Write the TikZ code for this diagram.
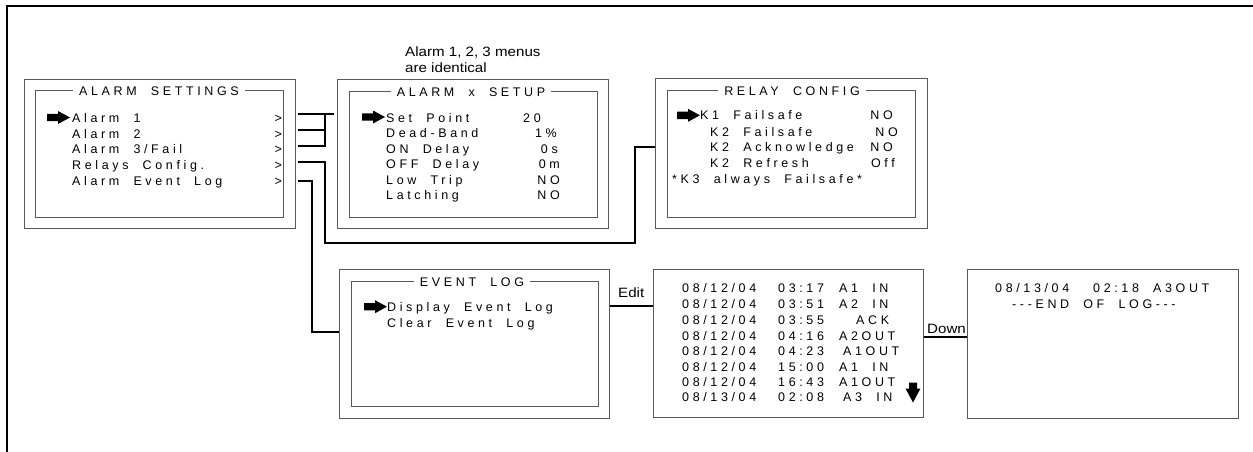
\documentclass[tikz,border=0pt]{standalone}
\usepackage{fontspec}
\setmainfont{Liberation Sans}
\newfontfamily\lcdfont[LetterSpace=29,WordSpace=2]{Liberation Sans}
\newfontfamily\lblfont[FakeStretch=1.12]{Liberation Sans}
\tikzset{
  box/.style={draw=black!65, line width=0.9pt, inner sep=0pt, anchor=north west},
  wire/.style={line width=2.4pt, line join=miter},
  txt/.style={font=\lcdfont\fontsize{12.5}{14}\selectfont, inner sep=0pt, anchor=base west},
  val/.style={txt, anchor=base east},
  ttl/.style={font=\lcdfont\fontsize{12.5}{14}\selectfont, fill=white, inner xsep=6pt, inner ysep=1pt, anchor=center},
  lbl/.style={font=\lblfont\fontsize{13.5}{15.5}\selectfont, inner sep=0pt, anchor=base west},
  ptr/.pic={\fill (-23,-3.7) -- (-12,-3.7) -- (-12,-6.5) -- (0,0) -- (-12,6.5) -- (-12,3.7) -- (-23,3.7) -- cycle;},
  dnptr/.pic={\fill (-4,-10) -- (4,-10) -- (4,-4) -- (7.5,-4) -- (0,10) -- (-7.5,-4) -- (-4,-4) -- cycle;}
}
\begin{document}
\begin{tikzpicture}[x=1pt,y=-1pt]
\useasboundingbox (0,0) rectangle (1253,452);
% frame
\draw[line width=2pt] (7,452) -- (7,5.7) -- (1253,5.7);

% ---------- ALARM SETTINGS ----------
\node[box, minimum width=271pt, minimum height=149pt] (as) at (24,79) {};
\node[box, minimum width=248pt, minimum height=127pt] (asi) at (35,90) {};
\node[ttl] (ast) at (159,91) {ALARM SETTINGS};
\pic at (70,117.5) {ptr};
\node[txt] (as1) at (72,122.5) {Alarm 1};
\node[txt] (as2) at (72,138) {Alarm 2};
\node[txt] (as3) at (72,153.5) {Alarm 3/Fail};
\node[txt] (as4) at (72,169.5) {Relays Config.};
\node[txt] (as5) at (72,185) {Alarm Event Log};
\foreach \y/\n in {122.5/g1,138/g2,153.5/g3,169.5/g4,185/g5}
  \node[val] (\n) at (282,\y) {>};

% annotation
\node[lbl] (note1) at (405,57) {Alarm 1, 2, 3 menus};
\node[lbl] (note2) at (405,73) {are identical};

% ---------- ALARM x SETUP ----------
\node[box, minimum width=271pt, minimum height=149pt] (su) at (337,79) {};
\node[box, minimum width=248pt, minimum height=126pt] (sui) at (349,91) {};
\node[ttl] (sut) at (471,92) {ALARM x SETUP};
\pic at (385,117) {ptr};
\node[txt] (su1) at (386,122.5) {Set Point};
\node[txt] (su2) at (386,137.9) {Dead-Band};
\node[txt] (su3) at (386,153.3) {ON Delay};
\node[txt] (su4) at (386,168.7) {OFF Delay};
\node[txt] (su5) at (386,184.1) {Low Trip};
\node[txt] (su6) at (386,199.5) {Latching};
\node[txt] (sv1) at (523,122.5) {20};
\node[val] (sv2) at (557,137.9) {1\%};
\node[val] (sv3) at (558,153.3) {0s};
\node[val] (sv4) at (560,168.7) {0m};
\node[val] (sv5) at (560,184.1) {NO};
\node[val] (sv6) at (560,199.5) {NO};

% ---------- RELAY CONFIG ----------
\node[box, minimum width=272pt, minimum height=150pt] (rc) at (655,78) {};
\node[box, minimum width=248pt, minimum height=127pt] (rci) at (667,90) {};
\node[ttl] (rct) at (792,91) {RELAY CONFIG};
\pic at (700,115.3) {ptr};
\node[txt] (rc1) at (700,119.7) {K1 Failsafe};
\node[txt] (rc2) at (710,136.6) {K2 Failsafe};
\node[txt] (rc3) at (710,151.6) {K2 Acknowledge};
\node[txt] (rc4) at (710,167.4) {K2 Refresh};
\node[txt] (rc5) at (672,183.3) {*K3 always Failsafe*};
\node[val] (rv1) at (893,119.7) {NO};
\node[val] (rv2) at (898,136.6) {NO};
\node[val] (rv3) at (893,151.6) {NO};
\node[val] (rv4) at (895,167.4) {Off};

% ---------- EVENT LOG ----------
\node[box, minimum width=270pt, minimum height=149pt] (el) at (339,269) {};
\node[box, minimum width=247pt, minimum height=125pt] (eli) at (351,281) {};
\node[ttl] (elt) at (472,282) {EVENT LOG};
\pic at (387,306.7) {ptr};
\node[txt] (el1) at (387,311.5) {Display Event Log};
\node[txt] (el2) at (387,327.5) {Clear Event Log};

% ---------- event list ----------
\node[box, minimum width=270pt, minimum height=148pt] (ls) at (653,269) {};
\node[txt] (d1) at (682,292.5) {08/12/04};
\node[txt] (d2) at (682,308.5) {08/12/04};
\node[txt] (d3) at (682,324.5) {08/12/04};
\node[txt] (d4) at (682,340.5) {08/12/04};
\node[txt] (d5) at (682,355.5) {08/12/04};
\node[txt] (d6) at (682,371.5) {08/12/04};
\node[txt] (d7) at (682,386.5) {08/12/04};
\node[txt] (d8) at (682,401.5) {08/13/04};
\node[txt] (t1) at (778,292.5) {03:17};
\node[txt] (t2) at (778,308.5) {03:51};
\node[txt] (t3) at (778,324.5) {03:55};
\node[txt] (t4) at (778,340.5) {04:16};
\node[txt] (t5) at (778,355.5) {04:23};
\node[txt] (t6) at (778,371.5) {15:00};
\node[txt] (t7) at (778,386.5) {16:43};
\node[txt] (t8) at (778,401.5) {02:08};
\node[txt] (e1) at (839,292.5) {A1 IN};
\node[txt] (e2) at (839,308.5) {A2 IN};
\node[txt] (e3) at (856,324.5) {ACK};
\node[txt] (e4) at (839,340.5) {A2OUT};
\node[txt] (e5) at (843,355.5) {A1OUT};
\node[txt] (e6) at (839,371.5) {A1 IN};
\node[txt] (e7) at (839,386.5) {A1OUT};
\node[txt] (e8) at (843,401.5) {A3 IN};
\pic at (913,392.5) {dnptr};

% ---------- end of log ----------
\node[box, minimum width=271pt, minimum height=149pt] (eo) at (967,269) {};
\node[txt] (f1) at (995,292.5) {08/13/04};
\node[txt] (f2) at (1093,292.5) {02:18};
\node[txt] (f3) at (1153,292.5) {A3OUT};
\node[txt] (f4) at (1012,308.5) {-{}-{}-END OF LOG-{}-{}-};

% labels
\node[lbl] (edit) at (618,297) {Edit};
\node[lbl] (down) at (927,333) {Down};

% ---------- connectors ----------
\coordinate (w1) at (298,114);
\coordinate (w2) at (298,130);
\coordinate (w3) at (298,146);
\coordinate (w4) at (298,162);
\coordinate (w5) at (298,181);
\coordinate (s1) at (334,114);
\coordinate (k4) at (635,147);
\coordinate (k5) at (312,332);
\coordinate (ke) at (0,306);
\coordinate (kd) at (0,337);
\draw[wire] (w1) -- (s1);
\draw[wire] (w2) -- (325,130);
\draw[wire] (w3) -- (325,146);
\draw[wire] (325,112.8) -- (325,147.2);
\draw[wire] (w4) -- (325,162) -- (325,243) -- (635,243) -- (k4) -- (rc.west |- k4);
\draw[wire] (w5) -- (312,181) -- (k5) -- (el.west |- k5);
\draw[wire] (el.east |- ke) -- (ls.west |- ke);
\draw[wire] (ls.east |- kd) -- (eo.west |- kd);
\end{tikzpicture}
\end{document}
